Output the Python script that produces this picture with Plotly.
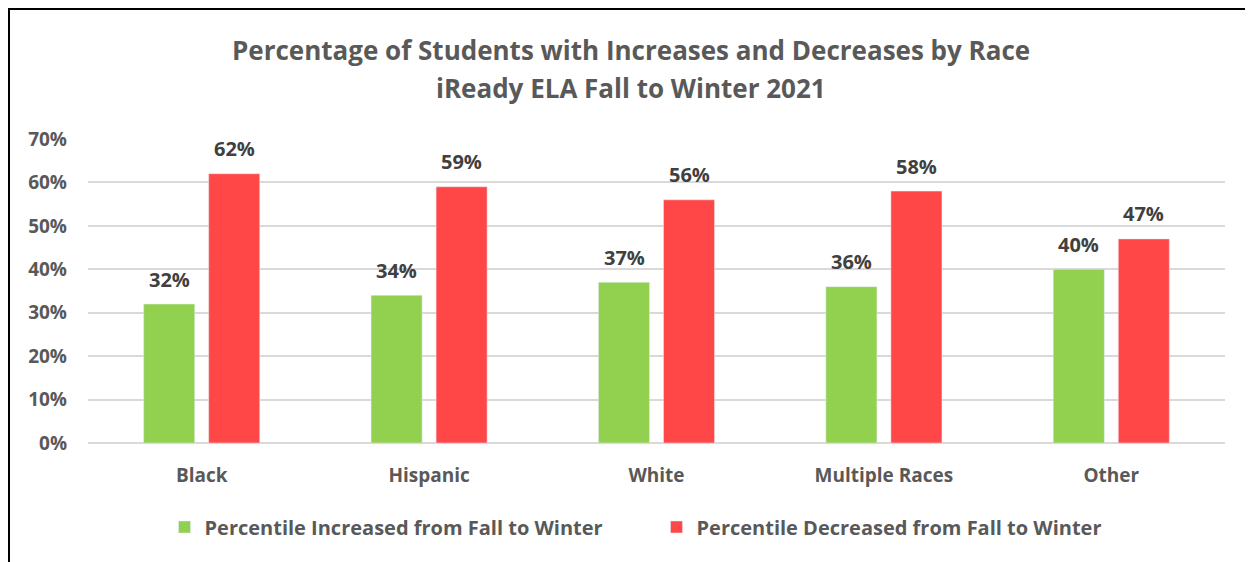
import plotly.graph_objects as go

categories = ["Black", "Hispanic", "White", "Multiple Races", "Other"]
increased = [32, 34, 37, 36, 40]
decreased = [62, 59, 56, 58, 47]
series_names = ["Percentile Increased from Fall to Winter", "Percentile Decreased from Fall to Winter"]
title_lines = ["Percentage of Students with Increases and Decreases by Race", "iReady ELA Fall to Winter 2021"]
y_ticks = [0, 10, 20, 30, 40, 50, 60, 70]

FONT = "Open Sans"
GREEN = "#92D050"
RED = "#FF4747"
GRAY = "#595959"

# page has an 8px body margin; figure coordinates = screenshot coordinates - 8
OFF = 8
W, H = 1253 - OFF, 562 - OFF
plot_top, plot_bot, plot_l, plot_r = 139 - OFF, 443 - OFF, 88 - OFF, 1225 - OFF

fig = go.Figure()
fig.add_trace(go.Bar(x=categories, y=increased, name=f"<b>{series_names[0]}</b>", marker_color=GREEN))
fig.add_trace(go.Bar(x=categories, y=decreased, name=f"<b>{series_names[1]}</b>", marker_color=RED))

annotations = []
for vals, shift in ((increased, -32.5), (decreased, 32.5)):
    for c, v in zip(categories, vals):
        annotations.append(dict(x=c, y=v, xref="x", yref="y", text=f"<b>{v}%</b>", showarrow=False,
                                xshift=shift, yshift=25, font=dict(family=FONT, size=20, color="#404040")))
for line, ypx in zip(title_lines, [50, 88]):
    annotations.append(dict(x=(631 - OFF - plot_l) / (plot_r - plot_l),
                            y=(plot_bot - (ypx - OFF)) / (plot_bot - plot_top),
                            xref="paper", yref="paper", yanchor="middle",
                            text=f"<b>{line}</b>", showarrow=False,
                            font=dict(family=FONT, size=26, color=GRAY)))

fig.update_layout(
    width=W, height=H,
    margin=dict(l=plot_l, r=W - plot_r, t=plot_top, b=H - plot_bot),
    paper_bgcolor="white", plot_bgcolor="white",
    barmode="group", bargap=0.428, bargroupgap=0.215,
    font=dict(family=FONT, color=GRAY),
    annotations=annotations,
    showlegend=True,
    legend=dict(orientation="h", x=0.5, xanchor="center",
                y=(plot_bot - (527 - OFF)) / (plot_bot - plot_top), yanchor="middle",
                font=dict(family=FONT, size=20, color=GRAY), traceorder="normal",
                entrywidth=447, entrywidthmode="pixels"),
    shapes=[dict(type="rect", xref="paper", yref="paper",
                 x0=(1 - plot_l) / (plot_r - plot_l), x1=1.2,
                 y0=-0.5, y1=(plot_bot - 1) / (plot_bot - plot_top),
                 line=dict(color="black", width=2), layer="above")],
)
fig.update_yaxes(range=[0, 70], tickvals=y_ticks, ticktext=[f"<b>{t}%</b>" for t in y_ticks],
                 showgrid=True, gridcolor="#D9D9D9", gridwidth=2, zeroline=True, zerolinecolor="#D9D9D9",
                 zerolinewidth=2, tickfont=dict(family=FONT, size=19, color=GRAY), ticklabelstandoff=20,
                 showline=False)
fig.update_xaxes(ticktext=[f"<b>{c}</b>" for c in categories], tickvals=categories,
                 tickfont=dict(family=FONT, size=19, color=GRAY), ticklabelstandoff=19, showline=False)

fig.write_html("out.html")
